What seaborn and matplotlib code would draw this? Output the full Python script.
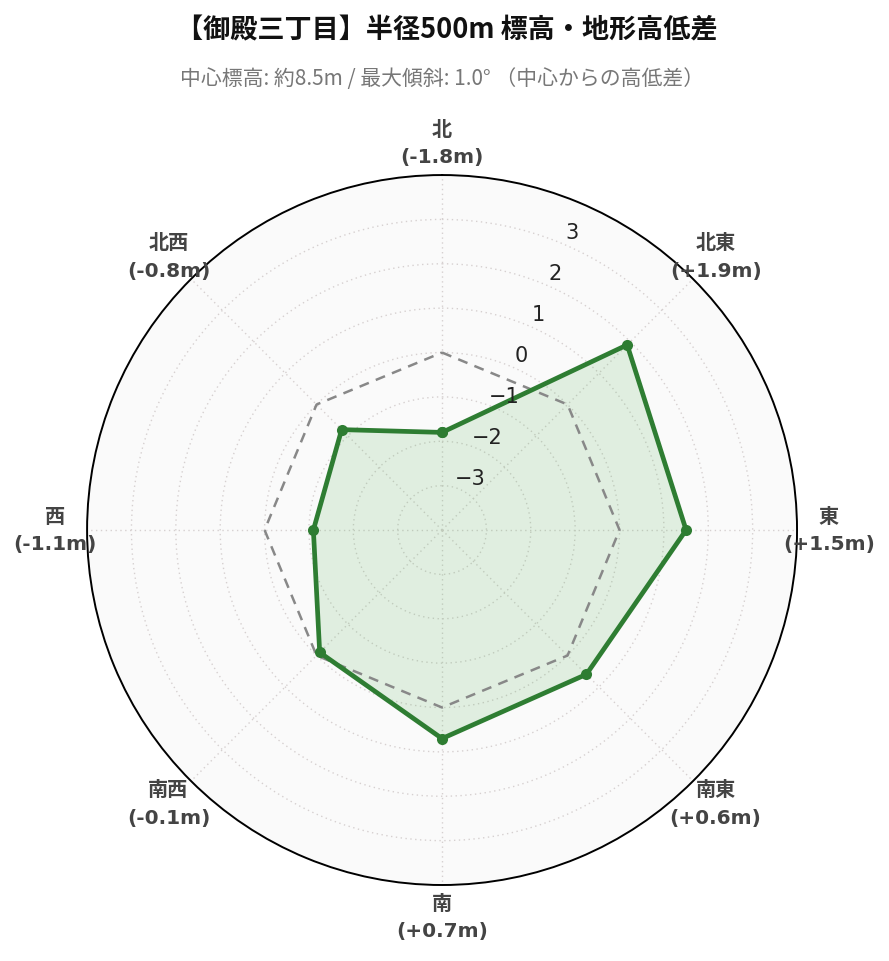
import numpy as np
import pandas as pd
import matplotlib
matplotlib.use("Agg")
import matplotlib.pyplot as plt
import matplotlib.transforms as mtransforms
import seaborn as sns

# ---- data ----
directions = ["北", "北東", "東", "南東", "南", "南西", "西", "北西"]
diffs = [-1.8, 1.9, 1.5, 0.6, 0.7, -0.1, -1.1, -0.8]
reference_level = 0.0
r_ticks = [-3, -2, -1, 0, 1, 2, 3]
r_limits = (-4, 4)
title = "【御殿三丁目】半径500m 標高・地形高低差"
subtitle = "中心標高: 約8.5m / 最大傾斜: 1.0° （中心からの高低差）"

sns.set_style("white")
plt.rcParams['font.family'] = ['DejaVu Sans', 'Noto Sans CJK JP']
plt.rcParams['axes.unicode_minus'] = True

GREEN = "#2e7d32"
FILL = "#4caf50"

n = len(directions)
theta = np.arange(n) * 2 * np.pi / n
theta_c = np.append(theta, theta[0])
vals_c = np.append(diffs, diffs[0])
ref_c = np.full(len(theta_c), reference_level)

df = pd.DataFrame({"theta": theta_c, "diff": vals_c, "ref": ref_c})

fig = plt.figure(figsize=(8.89, 9.62), dpi=100)
ax = fig.add_axes([0.0979, 0.079, 0.7987, 0.738], projection="polar")
ax.set_theta_zero_location("N")
ax.set_theta_direction(-1)
ax.set_facecolor("#fafafa")

# fill beneath grid
ax.fill(theta_c, vals_c, color=FILL, alpha=0.15, zorder=1, linewidth=0)
# reference (0 m) dashed octagon
sns.lineplot(data=df, x="theta", y="ref", ax=ax, sort=False, color="#888888",
             linestyle=(0, (4, 3)), linewidth=1.8, estimator=None, zorder=3)
# main line
sns.lineplot(data=df, x="theta", y="diff", ax=ax, sort=False, color=GREEN,
             linewidth=3.4, estimator=None, marker="o", markersize=8,
             markeredgewidth=0, zorder=4)

ax.set_ylim(*r_limits)
ax.set_yticks(r_ticks)
ax.set_yticklabels([])
ax.set_xticks(theta)
ax.set_xticklabels([])
ax.set_xlabel("")
ax.set_ylabel("")
ax.grid(True, color="#d6d0d0", linestyle=(0, (1, 2.5)), linewidth=1.0)
ax.spines["polar"].set_color("black")
ax.spines["polar"].set_linewidth(1.4)

# radial tick labels along 22.5 deg, shifted outward
rl_angle = np.deg2rad(22.5)
off = mtransforms.offset_copy(ax.transData, fig=fig, x=11, y=11, units="dots")
for t in r_ticks:
    ax.text(rl_angle, t, f"{t}".replace("-", "\u2212"), transform=off,
            ha="center", va="center", fontsize=15, color="#222222", zorder=5)

# direction labels
label_r = r_limits[1] + 0.72
for t, d, v in zip(theta, directions, diffs):
    ax.text(t, label_r, f"{d}\n({v:+.1f}m)",
            ha="center", va="center", fontsize=14.5, fontweight="bold",
            color="#444444", linespacing=1.55, clip_on=False)

fig.text(0.503, 0.968, title, ha="center", va="center", fontsize=19.5,
         fontweight="bold", color="#111111",
         family=['Noto Sans CJK JP', 'DejaVu Sans'])
fig.text(0.497, 0.918, subtitle, ha="center", va="center", fontsize=15,
         color="#777777", family=['Noto Sans CJK JP', 'DejaVu Sans'])

fig.savefig("out.png", dpi=100, facecolor="white")
